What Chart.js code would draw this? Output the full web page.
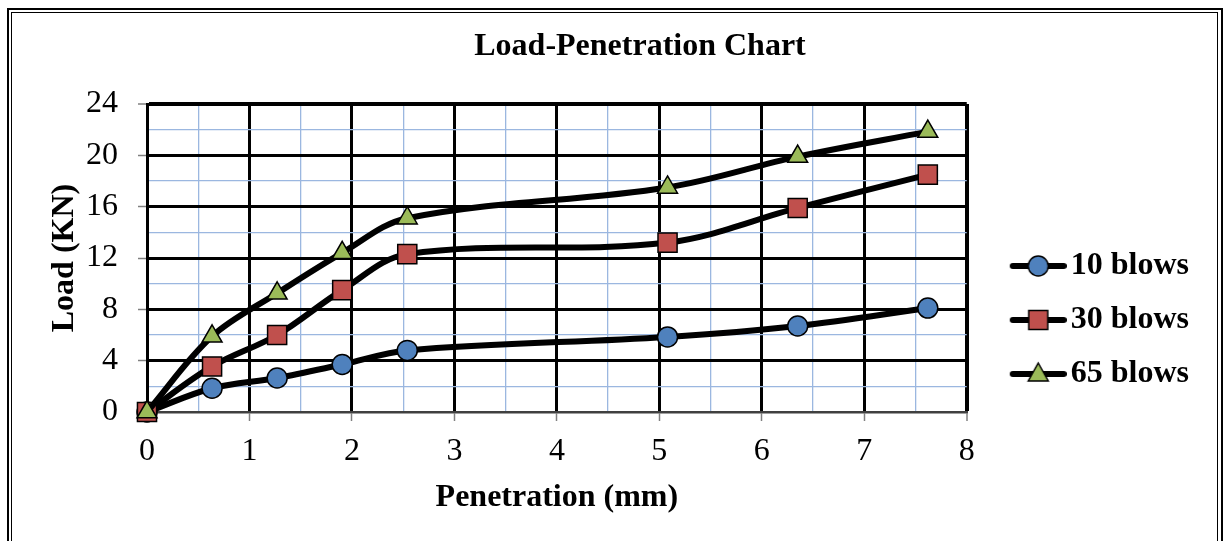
<!DOCTYPE html>
<html>
<head>
<meta charset="utf-8">
<script src="https://cdn.jsdelivr.net/npm/chart.js@4/dist/chart.umd.min.js"></script>
<style>
  html, body { margin: 0; padding: 0; background: #fff; overflow: hidden; }
  #wrap { position: absolute; left: 0; top: 0; width: 1223px; height: 541px; }
  .frame { position: absolute; pointer-events: none; }
  #outer { left: 7px; top: 8px; width: 1212px; height: 600px; border: 2px solid #000; }
  #inner { left: 11px; top: 12px; width: 1205px; height: 600px; border: 1px solid #000; }
</style>
</head>
<body>
<div id="wrap"><canvas id="chart" width="1223" height="541"></canvas></div>
<div id="outer" class="frame"></div>
<div id="inner" class="frame"></div>
<script>
  // values
  const penetration = [0, 0.635, 1.27, 1.905, 2.54, 5.08, 6.35, 7.62];
  const load10 = [0, 1.85, 2.65, 3.7, 4.8, 5.85, 6.7, 8.1];
  const load30 = [0, 3.55, 6.0, 9.5, 12.3, 13.2, 15.9, 18.5];
  const load65 = [0, 5.9, 9.25, 12.4, 15.1, 17.5, 19.9, 21.85];
  const seriesNames = ["10 blows", "30 blows", "65 blows"];
  const markerColors = ["#4f81bd", "#c0504d", "#9bbb59"];
  const markerStyles = ["circle", "rect", "triangle"];
  const markerRadius = [10, 13.5, 11.5];

  const SERIF = "'Liberation Serif', 'Times New Roman', serif";
  const MINOR = "#9bb7e0";

  const isMajorX = (v) => Math.abs(v - Math.round(v)) < 1e-6;
  const isMajorY = (v) => Math.abs(v % 4) < 1e-6;

  // legend pictures: thick black line with the marker in its middle
  function legendIcon(i) {
    const c = document.createElement("canvas");
    c.width = 66;
    c.height = 30;
    const g = c.getContext("2d");
    g.strokeStyle = "#000";
    g.lineWidth = 6;
    g.lineCap = "round";
    g.beginPath();
    g.moveTo(12, 15);
    g.lineTo(63, 15);
    g.stroke();
    const cx = 37.5, cy = 15;
    g.fillStyle = markerColors[i];
    g.lineWidth = 1.5;
    g.beginPath();
    if (markerStyles[i] === "circle") {
      g.arc(cx, cy, 10, 0, Math.PI * 2);
    } else if (markerStyles[i] === "rect") {
      g.rect(cx - 9.5, cy - 9.5, 19, 19);
    } else {
      g.moveTo(cx, cy - 11);
      g.lineTo(cx + 10, cy + 7);
      g.lineTo(cx - 10, cy + 7);
      g.closePath();
    }
    g.fill();
    g.stroke();
    return c;
  }

  const loads = [load10, load30, load65];
  const datasets = loads.map((vals, i) => ({
    label: seriesNames[i],
    data: penetration.map((x, k) => ({ x, y: vals[k] })),
    borderColor: "#000",
    borderWidth: 6,
    tension: 0.35,
    pointStyle: markerStyles[i],
    pointRadius: markerRadius[i],
    pointBackgroundColor: markerColors[i],
    pointBorderColor: "#000",
    pointBorderWidth: 1.5,
    clip: false,
    order: 3 - i,
  }));
  const icons = [0, 1, 2].map(legendIcon);

  new Chart(document.getElementById("chart"), {
    type: "line",
    data: { datasets },
    options: {
      responsive: false,
      animation: false,
      events: [],
      layout: { padding: { left: 81, right: 24, top: 8, bottom: 4 } },
      plugins: {
        tooltip: { enabled: false },
        title: {
          display: true,
          text: "Load-Penetration Chart",
          color: "#000",
          font: { family: SERIF, size: 32, weight: "bold" },
          padding: { top: 19.5, bottom: 38.1 },
        },
        legend: {
          position: "right",
          align: "center",
          maxWidth: 400,
          title: { display: true, text: "", font: { size: 1 }, padding: { top: 93.8, bottom: 0 } },
          labels: {
            usePointStyle: true,
            pointStyleWidth: 42,
            padding: 22,
            color: "#000",
            font: { family: SERIF, size: 32, weight: "bold" },
            generateLabels: (chart) =>
              chart.data.datasets.map((ds, i) => ({
                text: ds.label,
                datasetIndex: i,
                pointStyle: icons[i],
                fillStyle: markerColors[i],
                strokeStyle: "#000",
                fontColor: "#000",
                lineWidth: 0,
                hidden: false,
              })),
          },
        },
      },
      scales: {
        x: {
          type: "linear",
          min: 0,
          max: 8,
          afterFit: (s) => { s.height = 125; },
          border: { display: true, color: "#404040", width: 2.5 },
          grid: {
            color: (c) => (isMajorX(c.tick.value) ? (c.tick.value === 0 ? "rgba(0,0,0,0)" : "#000") : MINOR),
            lineWidth: (c) => (isMajorX(c.tick.value) ? (c.tick.value === 8 ? 4 : 3) : 1.3),
            drawTicks: true,
            tickLength: 9,
            tickColor: (c) => (isMajorX(c.tick.value) ? "#808080" : "rgba(0,0,0,0)"),
            tickWidth: 1.5,
          },
          ticks: {
            stepSize: 0.5,
            autoSkip: false,
            maxRotation: 0,
            padding: 11.5,
            color: "#000",
            font: { family: SERIF, size: 32 },
            callback: (v) => (isMajorX(v) ? String(Math.round(v)) : ""),
          },
          title: {
            display: true,
            text: "Penetration (mm)",
            color: "#000",
            font: { family: SERIF, size: 32, weight: "bold" },
            padding: { top: 0, bottom: 20 },
          },
        },
        y: {
          type: "linear",
          min: 0,
          max: 24,
          afterFit: (s) => { s.width = 66; },
          border: { display: true, color: "#000", width: 3 },
          grid: {
            color: (c) => (isMajorY(c.tick.value) ? (c.tick.value === 0 ? "rgba(0,0,0,0)" : "#000") : MINOR),
            lineWidth: (c) => (isMajorY(c.tick.value) ? (c.tick.value === 24 ? 4 : 3) : 1.3),
            drawTicks: true,
            tickLength: 9,
            tickColor: (c) => (isMajorY(c.tick.value) ? "#808080" : "rgba(0,0,0,0)"),
            tickWidth: 1.5,
          },
          ticks: {
            stepSize: 2,
            autoSkip: false,
            padding: 20,
            color: "#000",
            font: { family: SERIF, size: 32 },
            callback: (v) => (isMajorY(v) ? String(v) : ""),
          },
          title: {
            display: true,
            text: "Load (KN)",
            color: "#000",
            font: { family: SERIF, size: 32, weight: "bold" },
            padding: { top: -35.2, bottom: 0 },
          },
        },
        // empty right-hand axis: only keeps the gap between plot and legend
        gap: {
          type: "linear",
          position: "right",
          display: true,
          afterFit: (s) => { s.width = 24; },
          grid: { display: false, drawTicks: false },
          border: { display: false },
          ticks: { display: false },
        },
      },
    },
  });
</script>
</body>
</html>
